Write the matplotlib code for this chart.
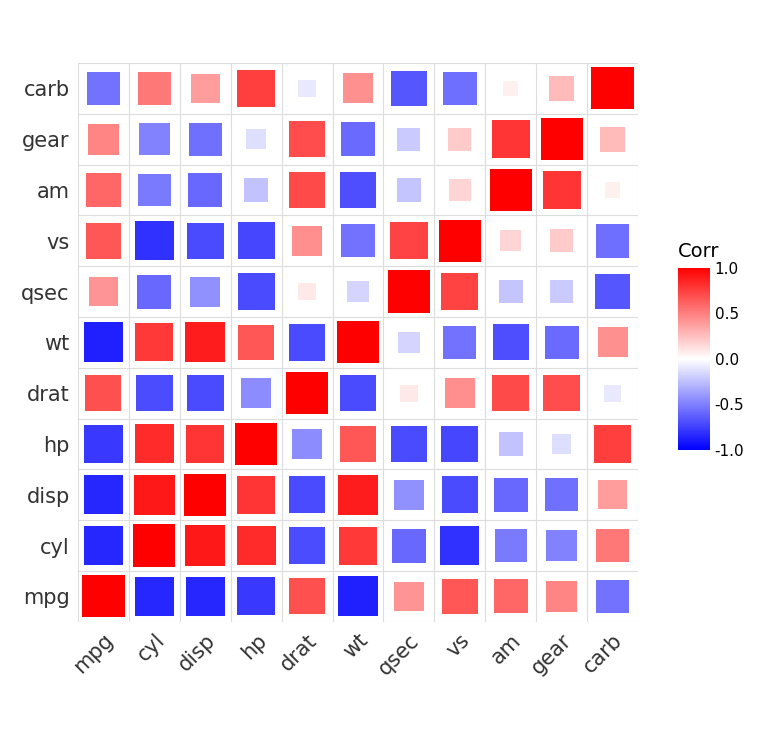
import numpy as np
import matplotlib
matplotlib.use("Agg")
import matplotlib.pyplot as plt
from matplotlib.colors import LinearSegmentedColormap
from matplotlib.patches import Rectangle

names = ["mpg", "cyl", "disp", "hp", "drat", "wt", "qsec", "vs", "am", "gear", "carb"]
corr = np.array([
    [1.00, -0.85, -0.85, -0.78, 0.68, -0.87, 0.42, 0.66, 0.60, 0.48, -0.55],
    [-0.85, 1.00, 0.90, 0.83, -0.70, 0.78, -0.59, -0.81, -0.52, -0.49, 0.53],
    [-0.85, 0.90, 1.00, 0.79, -0.71, 0.89, -0.43, -0.71, -0.59, -0.56, 0.39],
    [-0.78, 0.83, 0.79, 1.00, -0.45, 0.66, -0.71, -0.72, -0.24, -0.13, 0.75],
    [0.68, -0.70, -0.71, -0.45, 1.00, -0.71, 0.09, 0.44, 0.71, 0.70, -0.09],
    [-0.87, 0.78, 0.89, 0.66, -0.71, 1.00, -0.17, -0.55, -0.69, -0.58, 0.43],
    [0.42, -0.59, -0.43, -0.71, 0.09, -0.17, 1.00, 0.74, -0.23, -0.21, -0.66],
    [0.66, -0.81, -0.71, -0.72, 0.44, -0.55, 0.74, 1.00, 0.17, 0.21, -0.57],
    [0.60, -0.52, -0.59, -0.24, 0.71, -0.69, -0.23, 0.17, 1.00, 0.79, 0.06],
    [0.48, -0.49, -0.56, -0.13, 0.70, -0.58, -0.21, 0.21, 0.79, 1.00, 0.27],
    [-0.55, 0.53, 0.39, 0.75, -0.09, 0.43, -0.66, -0.57, 0.06, 0.27, 1.00],
])

cmap = LinearSegmentedColormap.from_list("bwr2", ["#0000FF", "#FFFFFF", "#FF0000"])
norm = plt.Normalize(-1, 1)
n = len(names)

fig = plt.figure(figsize=(7.8, 7.5), dpi=100)
ax = fig.add_axes([0.1, 0.171, 0.718, 0.745])
for i in range(n):       # x index
    for j in range(n):   # y index
        r = corr[i, j]
        s = 0.13 + 0.70 * np.sqrt(abs(r))
        ax.add_patch(Rectangle((i - s / 2, j - s / 2), s, s,
                               facecolor=cmap(norm(r)), edgecolor="none", zorder=2))
for k in range(n + 1):
    ax.axvline(k - 0.5, color="#DDDDDD", lw=0.8, zorder=1)
    ax.axhline(k - 0.5, color="#DDDDDD", lw=0.8, zorder=1)
ax.set_xlim(-0.5, n - 0.5)
ax.set_ylim(-0.5, n - 0.5)
ax.set_xticks(range(n))
ax.set_yticks(range(n))
ax.set_xticklabels(names, rotation=45, ha="right", rotation_mode="anchor", fontsize=15, color="#333333")
ax.set_yticklabels(names, fontsize=15, color="#333333")
ax.tick_params(length=0, pad=6)
for sp in ax.spines.values():
    sp.set_visible(False)

cax = fig.add_axes([0.869, 0.4, 0.041, 0.243])
sm = plt.cm.ScalarMappable(norm=norm, cmap=cmap)
cb = fig.colorbar(sm, cax=cax, ticks=[-1, -0.5, 0, 0.5, 1])
cb.ax.set_yticklabels(["-1.0", "-0.5", "0.0", "0.5", "1.0"], fontsize=11)
cb.outline.set_visible(False)
cb.ax.tick_params(length=0)
cax.set_title("Corr", fontsize=14, loc="left", pad=8)

fig.savefig("out.png", dpi=100)
plt.close(fig)
